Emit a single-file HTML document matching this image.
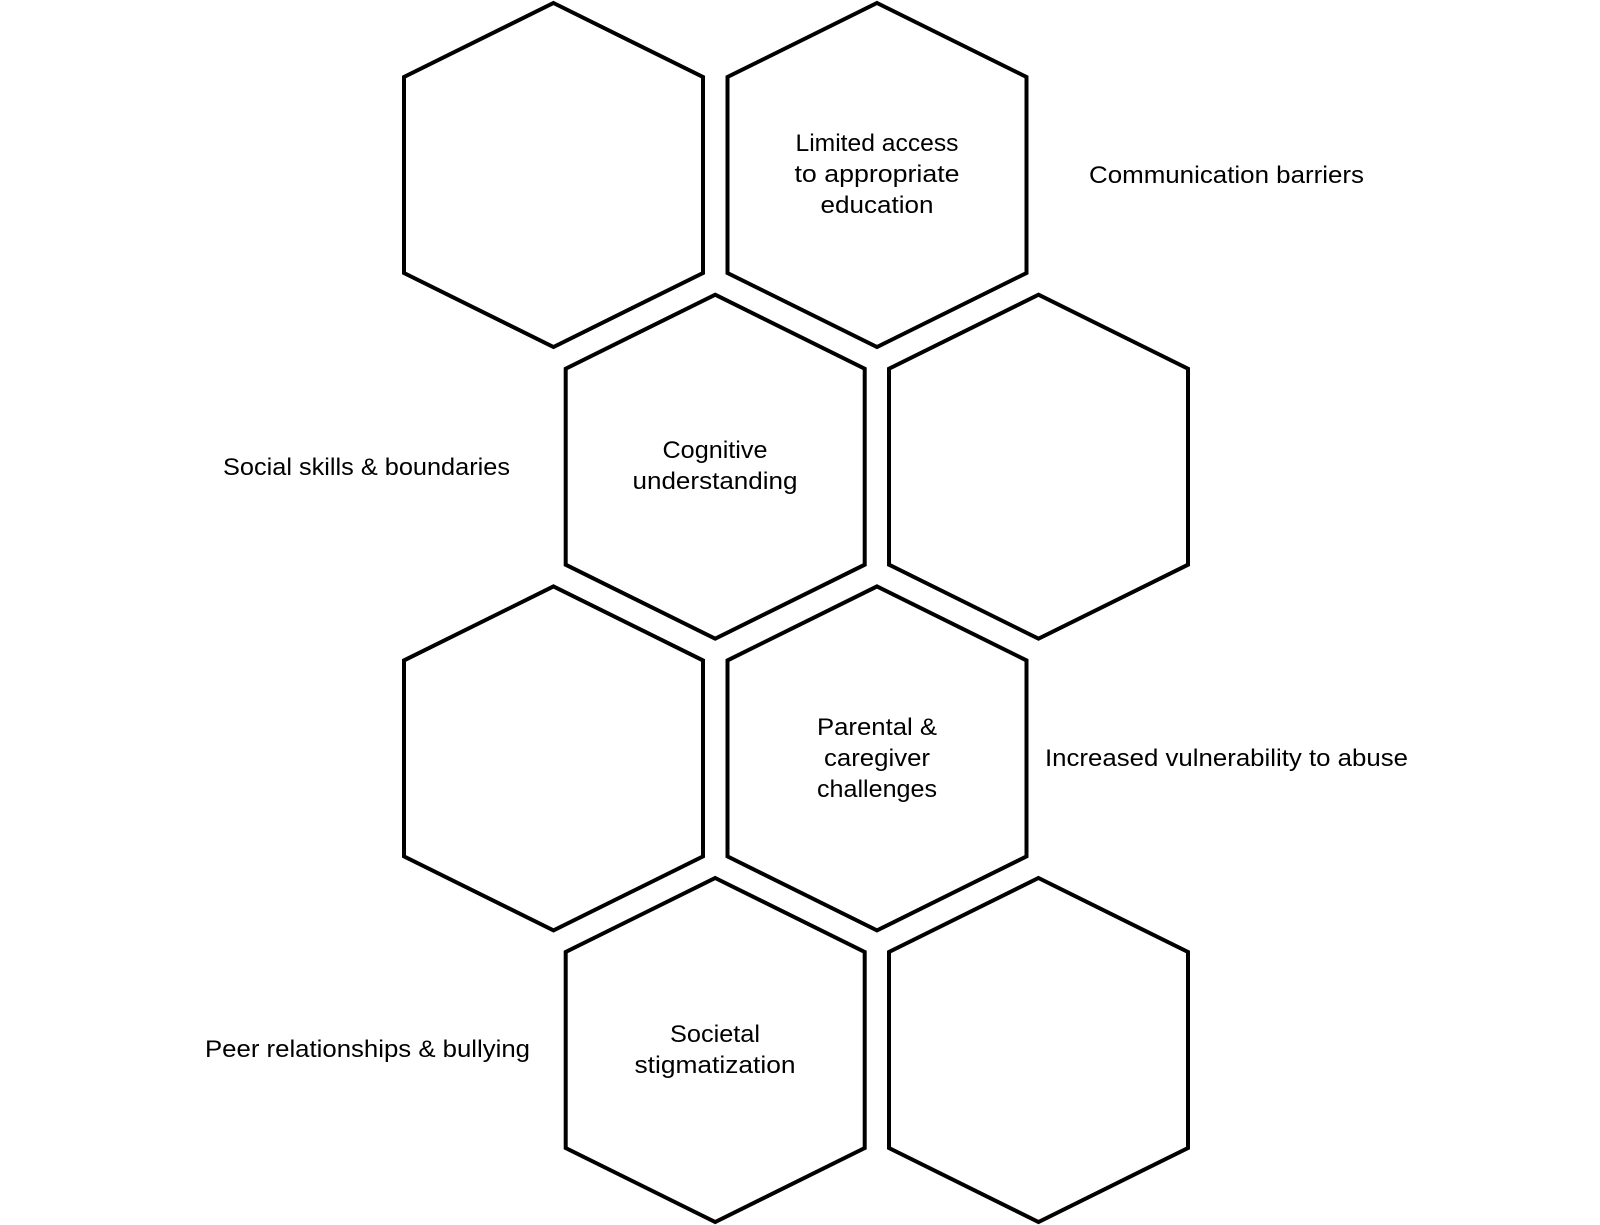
<!DOCTYPE html>
<html>
<head>
<meta charset="utf-8">
<style>
  html, body { margin: 0; padding: 0; background: #fff; }
  svg { display: block; }
  text { font-family: "Liberation Sans", "DejaVu Sans", sans-serif; font-size: 24px; fill: #000; }
</style>
</head>
<body>
<svg width="1600" height="1225" viewBox="0 0 1600 1225" xmlns="http://www.w3.org/2000/svg">
  <rect width="1600" height="1225" fill="#fff"/>
  <g fill="#fff" stroke="#000" stroke-width="4" stroke-linejoin="miter">
    <!-- Row 1 -->
    <polygon points="553.5,3 703,77 703,273 553.5,347 404,273 404,77"/>
    <polygon points="877,3 1026.5,77 1026.5,273 877,347 727.5,273 727.5,77"/>
    <!-- Row 2 -->
    <polygon points="715.2,294.7 864.7,368.7 864.7,564.7 715.2,638.7 565.7,564.7 565.7,368.7"/>
    <polygon points="1038.5,294.7 1188,368.7 1188,564.7 1038.5,638.7 889,564.7 889,368.7"/>
    <!-- Row 3 -->
    <polygon points="553.5,586.4 703,660.4 703,856.4 553.5,930.4 404,856.4 404,660.4"/>
    <polygon points="877,586.4 1026.5,660.4 1026.5,856.4 877,930.4 727.5,856.4 727.5,660.4"/>
    <!-- Row 4 -->
    <polygon points="715.2,878 864.7,952 864.7,1148 715.2,1222 565.7,1148 565.7,952"/>
    <polygon points="1038.5,878 1188,952 1188,1148 1038.5,1222 889,1148 889,952"/>
  </g>
  <g text-anchor="middle">
    <text x="877" y="151" textLength="163" lengthAdjust="spacingAndGlyphs">Limited access</text>
    <text x="877" y="182" textLength="165" lengthAdjust="spacingAndGlyphs">to appropriate</text>
    <text x="877" y="213" textLength="113" lengthAdjust="spacingAndGlyphs">education</text>

    <text x="1226.5" y="183" textLength="275" lengthAdjust="spacingAndGlyphs">Communication barriers</text>

    <text x="366.5" y="475" textLength="287" lengthAdjust="spacingAndGlyphs">Social skills &amp; boundaries</text>

    <text x="715" y="458" textLength="105" lengthAdjust="spacingAndGlyphs">Cognitive</text>
    <text x="715" y="489" textLength="165" lengthAdjust="spacingAndGlyphs">understanding</text>

    <text x="877" y="735" textLength="120" lengthAdjust="spacingAndGlyphs">Parental &amp;</text>
    <text x="877" y="766" textLength="106" lengthAdjust="spacingAndGlyphs">caregiver</text>
    <text x="877" y="797" textLength="120" lengthAdjust="spacingAndGlyphs">challenges</text>

    <text x="1226.5" y="766" textLength="363" lengthAdjust="spacingAndGlyphs">Increased vulnerability to abuse</text>

    <text x="367.5" y="1057" textLength="325" lengthAdjust="spacingAndGlyphs">Peer relationships &amp; bullying</text>

    <text x="715" y="1042" textLength="90" lengthAdjust="spacingAndGlyphs">Societal</text>
    <text x="715" y="1073" textLength="161" lengthAdjust="spacingAndGlyphs">stigmatization</text>
  </g>
</svg>
</body>
</html>
